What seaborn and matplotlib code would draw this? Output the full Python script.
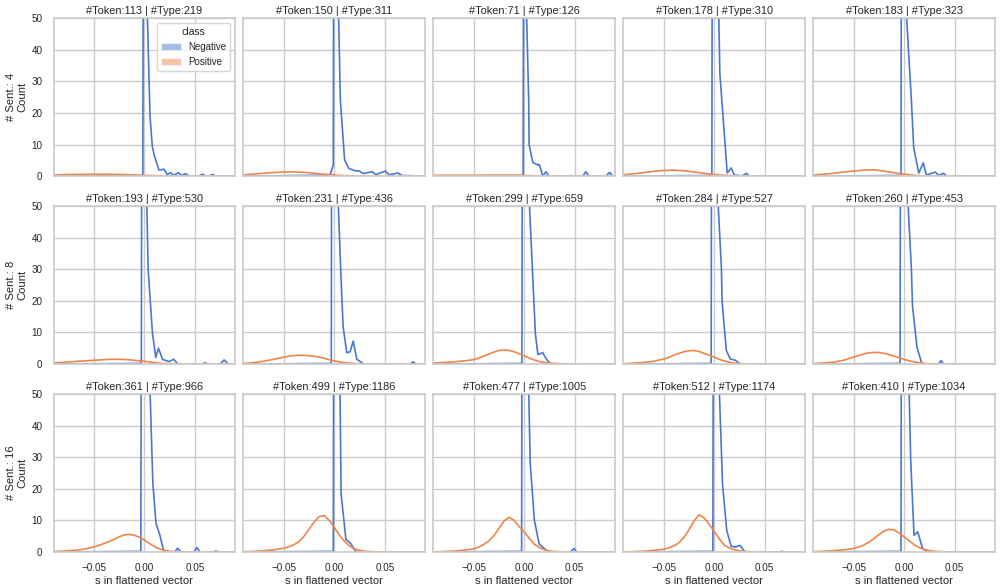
import matplotlib
matplotlib.use("Agg")
import matplotlib.pyplot as plt
from matplotlib.patches import Patch
import pandas as pd
import seaborn as sns

# panel labels
SENTS = [4, 8, 16]
TOKENS = [[113, 150, 71, 178, 183], [193, 231, 299, 284, 260], [361, 499, 477, 512, 410]]
TYPES = [[219, 311, 126, 310, 323], [530, 436, 659, 527, 453], [966, 1186, 1005, 1174, 1034]]
CLASSES = ["Negative", "Positive"]

# Negative KDE lines (spike near zero goes far above the 0-50 window)
NEG_X_4 = [
    [-0.09, -0.0015, 0.0, 0.003, 0.0056, 0.0079, 0.0102, 0.0145, 0.0194, 0.0227, 0.026, 0.029, 0.0336, 0.037, 0.041, 0.044, 0.054, 0.0574, 0.061, 0.064, 0.0673, 0.071, 0.09],
    [-0.09, -0.0044, -0.001, 0.0005, 0.0043, 0.006, 0.0102, 0.0145, 0.021, 0.025, 0.0287, 0.0376, 0.041, 0.0508, 0.054, 0.063, 0.067, 0.09],
    [-0.09, -0.0011, 0.0005, 0.0024, 0.0044, 0.0048, 0.0085, 0.014, 0.0148, 0.0185, 0.0215, 0.0244, 0.058, 0.061, 0.064, 0.081, 0.0844, 0.0875, 0.09],
    [-0.09, -0.0023, -0.0008, 0.0046, 0.0056, 0.0129, 0.0169, 0.020, 0.028, 0.0318, 0.035, 0.09],
    [-0.09, -0.0031, -0.0016, 0.0025, 0.0072, 0.0095, 0.0145, 0.019, 0.022, 0.031, 0.034, 0.039, 0.042, 0.09],
]
NEG_Y_4 = [
    [0, 0.2, 300, 50, 18.8, 9.3, 6.1, 1.9, 2.2, 0.5, 1.1, 0.2, 1.1, 0.2, 0.8, 0, 0, 0.6, 0, 0, 0.5, 0, 0],
    [0, 0.3, 3.5, 300, 50, 24, 5.1, 2.4, 1.7, 1.6, 0.8, 1.4, 0.5, 1.6, 0.4, 1.0, 0.2, 0],
    [0, 0.2, 300, 50, 24, 10, 4.3, 3.5, 3.7, 0, 1.4, 0, 0, 1.4, 0, 0, 1.2, 0, 0],
    [0, 0.2, 300, 49.4, 32.6, 1.0, 2.6, 0.3, 0.1, 0.9, 0, 0],
    [0, 0.2, 300, 50, 24, 9.0, 1.0, 4.2, 0.3, 1.3, 0.2, 0.9, 0, 0],
]
NEG_X_8 = [
    [-0.09, -0.003, -0.0015, 0.0025, 0.0037, 0.008, 0.0113, 0.014, 0.018, 0.0213, 0.025, 0.029, 0.033, 0.057, 0.06, 0.063, 0.075, 0.079, 0.083, 0.09],
    [-0.09, -0.003, -0.0015, 0.004, 0.0063, 0.0087, 0.0123, 0.0157, 0.0187, 0.0223, 0.0263, 0.029, 0.075, 0.078, 0.081, 0.09],
    [-0.09, -0.0023, -0.0008, 0.0052, 0.011, 0.0135, 0.0183, 0.022, 0.0265, 0.09],
    [-0.09, -0.003, -0.0015, 0.004, 0.0072, 0.0078, 0.012, 0.016, 0.021, 0.0256, 0.09],
    [-0.09, -0.004, -0.0025, 0.004, 0.0072, 0.0083, 0.0127, 0.0172, 0.02, 0.034, 0.0367, 0.039, 0.09],
]
NEG_Y_8 = [
    [0, 0.2, 300, 50, 30, 9.8, 2.1, 5.0, 1.5, 1.1, 0.8, 1.5, 0.1, 0, 0.4, 0, 0, 1.3, 0, 0],
    [0, 0.2, 300, 50, 30, 11.9, 3.6, 3.9, 7.3, 1.5, 0.7, 0, 0, 0.7, 0, 0],
    [0, 0.2, 300, 50, 9.7, 3.0, 3.6, 1.5, 0, 0],
    [0, 0.2, 300, 50, 30, 20, 4.3, 1.6, 1.2, 0, 0],
    [0, 0.2, 300, 50, 30, 18.4, 5.4, 0.5, 0, 0, 1.1, 0, 0],
]
NEG_X_16 = [
    [-0.09, -0.0035, -0.002, 0.0057, 0.0084, 0.0115, 0.0153, 0.019, 0.02, 0.03, 0.033, 0.036, 0.049, 0.052, 0.055, 0.068, 0.071, 0.074, 0.09],
    [-0.09, -0.001, 0.0005, 0.0057, 0.0067, 0.0115, 0.0162, 0.0215, 0.09],
    [-0.09, -0.0026, -0.0011, 0.0045, 0.0059, 0.01, 0.0148, 0.024, 0.046, 0.0493, 0.052, 0.09],
    [-0.09, -0.0013, 0.0002, 0.0052, 0.0083, 0.0124, 0.0168, 0.0212, 0.0257, 0.0304, 0.064, 0.067, 0.07, 0.09],
    [-0.09, -0.0031, -0.0016, 0.005, 0.0065, 0.0098, 0.0135, 0.0183, 0.0238, 0.09],
]
NEG_Y_16 = [
    [0, 0.2, 300, 50, 21.7, 9.1, 5.4, 0.4, 0, 0, 1.2, 0, 0, 1.4, 0, 0, 0.3, 0, 0],
    [0, 0.2, 300, 50, 18.5, 4.0, 2.7, 0, 0],
    [0, 0.2, 300, 50, 28.3, 10.1, 2.5, 0, 0, 1.1, 0, 0],
    [0, 0.2, 300, 50, 21.3, 6.9, 1.8, 1.6, 2.1, 0, 0, 0.2, 0, 0],
    [0, 0.2, 300, 50, 29.3, 5.3, 6.4, 1.1, 0, 0],
]

# Positive KDE lines
POS_X_4 = [-0.09, -0.08, -0.07, -0.06, -0.05, -0.04, -0.03, -0.02, -0.01, 0.0, 0.01, 0.02, 0.03, 0.05, 0.09]
POS_Y_4 = [
    [0.35, 0.45, 0.5, 0.55, 0.6, 0.6, 0.55, 0.45, 0.35, 0.25, 0.15, 0.08, 0.04, 0.01, 0],
    [0.4, 0.65, 0.9, 1.15, 1.3, 1.35, 1.2, 0.9, 0.6, 0.35, 0.15, 0.07, 0.03, 0.0, 0],
    [0.25, 0.28, 0.3, 0.3, 0.3, 0.3, 0.3, 0.3, 0.28, 0.2, 0.1, 0.05, 0.02, 0.0, 0],
    [0.4, 0.75, 1.1, 1.5, 1.8, 1.9, 1.7, 1.3, 0.9, 0.5, 0.25, 0.1, 0.03, 0.0, 0],
    [0.3, 0.6, 0.9, 1.3, 1.6, 1.9, 2.0, 1.6, 1.1, 0.6, 0.25, 0.08, 0.02, 0.0, 0],
]
POS_X_8 = [-0.09, -0.08, -0.07, -0.06, -0.05, -0.045, -0.04, -0.035, -0.03, -0.025, -0.02,
           -0.015, -0.01, -0.005, 0.0, 0.005, 0.01, 0.015, 0.02, 0.03, 0.04, 0.09]
POS_Y_8 = [
    [0.35, 0.55, 0.8, 1.0, 1.2, 1.3, 1.4, 1.48, 1.5, 1.5, 1.45, 1.35, 1.2, 1.05, 0.9, 0.65, 0.45, 0.28, 0.15, 0.05, 0.01, 0],
    [0.2, 0.45, 0.9, 1.5, 2.2, 2.5, 2.7, 2.8, 2.75, 2.65, 2.45, 2.2, 1.8, 1.4, 1.0, 0.7, 0.45, 0.28, 0.18, 0.05, 0.01, 0],
    [0.3, 0.5, 0.7, 1.0, 1.4, 1.9, 2.5, 3.2, 3.8, 4.3, 4.5, 4.3, 3.9, 3.3, 2.6, 1.9, 1.3, 0.8, 0.5, 0.2, 0.08, 0],
    [0.1, 0.3, 0.5, 0.9, 1.6, 2.1, 2.8, 3.4, 3.9, 4.2, 4.3, 4.0, 3.4, 2.8, 2.2, 1.5, 1.0, 0.6, 0.3, 0.07, 0.02, 0],
    [0.15, 0.35, 0.6, 1.2, 2.2, 2.7, 3.2, 3.55, 3.7, 3.65, 3.4, 3.0, 2.5, 2.0, 1.5, 1.05, 0.7, 0.4, 0.2, 0.05, 0.01, 0],
]
POS_X_16 = [-0.09, -0.08, -0.07, -0.06, -0.05, -0.045, -0.04, -0.035, -0.03, -0.025, -0.02, -0.015,
            -0.01, -0.005, 0.0, 0.005, 0.01, 0.015, 0.02, 0.025, 0.03, 0.04, 0.09]
POS_Y_16 = [
    [0.15, 0.3, 0.5, 0.9, 1.6, 2.1, 2.7, 3.3, 4.0, 4.8, 5.4, 5.6, 5.3, 4.7, 3.8, 2.7, 1.7, 1.0, 0.5, 0.25, 0.1, 0.02, 0],
    [0.1, 0.2, 0.4, 0.7, 1.2, 1.7, 2.3, 3.3, 5.0, 7.2, 9.5, 11.2, 11.5, 10.0, 7.8, 5.4, 3.4, 1.9, 1.0, 0.5, 0.25, 0.05, 0],
    [0.05, 0.15, 0.3, 0.55, 1.0, 1.6, 2.4, 3.5, 5.2, 7.5, 9.8, 11.0, 10.0, 8.0, 6.4, 4.3, 2.5, 1.4, 0.7, 0.35, 0.15, 0.03, 0],
    [0.05, 0.12, 0.25, 0.5, 0.9, 1.3, 1.9, 2.9, 4.6, 7.0, 9.8, 11.8, 10.8, 8.8, 6.5, 4.2, 2.2, 1.3, 0.7, 0.35, 0.2, 0.05, 0],
    [0.1, 0.25, 0.4, 0.7, 1.1, 1.6, 2.2, 3.1, 4.2, 5.5, 6.6, 7.2, 7.0, 6.0, 4.8, 3.6, 2.3, 1.4, 0.8, 0.45, 0.25, 0.05, 0],
]

NEG_X = [NEG_X_4, NEG_X_8, NEG_X_16]
NEG_Y = [NEG_Y_4, NEG_Y_8, NEG_Y_16]
POS_X = [POS_X_4, POS_X_8, POS_X_16]
POS_Y = [POS_Y_4, POS_Y_8, POS_Y_16]

sns.set_theme(style="whitegrid")
plt.rcParams['font.family'] = ['Liberation Sans', 'DejaVu Sans']
palette = sns.color_palette("muted")[:2]

fig, axes = plt.subplots(3, 5, figsize=(10, 5.87), dpi=100, sharex=True, sharey=True)
plt.subplots_adjust(left=0.0535, right=0.995, top=0.969, bottom=0.0596, wspace=0.045, hspace=0.19)

for r in range(3):
    for c in range(5):
        ax = axes[r, c]
        neg = pd.DataFrame({'x': NEG_X[r][c], 'y': NEG_Y[r][c], 'class': 'Negative'})
        pos = pd.DataFrame({'x': POS_X[r], 'y': POS_Y[r][c], 'class': 'Positive'})
        df = pd.concat([neg, pos], ignore_index=True)
        sns.lineplot(data=df, x='x', y='y', hue='class', hue_order=CLASSES, palette=palette,
                     estimator=None, sort=False, linewidth=1.2, legend=False, ax=ax)
        ax.set_title(f"#Token:{TOKENS[r][c]} | #Type:{TYPES[r][c]}", fontsize=7.9, pad=3)
        ax.set_xlim(-0.09, 0.09)
        ax.set_ylim(0, 50)
        ax.set_xticks([-0.05, 0.0, 0.05])
        ax.set_yticks([0, 10, 20, 30, 40, 50])
        ax.tick_params(labelsize=7.1, pad=2)
        ax.set_xlabel("s in flattened vector" if r == 2 else "", fontsize=8.1, labelpad=2)
        ax.set_ylabel(f"# Sent.: {SENTS[r]}\nCount" if c == 0 else "", fontsize=8.1, labelpad=3)

handles = [Patch(facecolor=palette[i], alpha=0.5, label=CLASSES[i]) for i in range(2)]
axes[0, 0].legend(handles=handles, title="class", loc="upper right", fontsize=7, title_fontsize=7.5)

plt.savefig("out.png", dpi=100)
